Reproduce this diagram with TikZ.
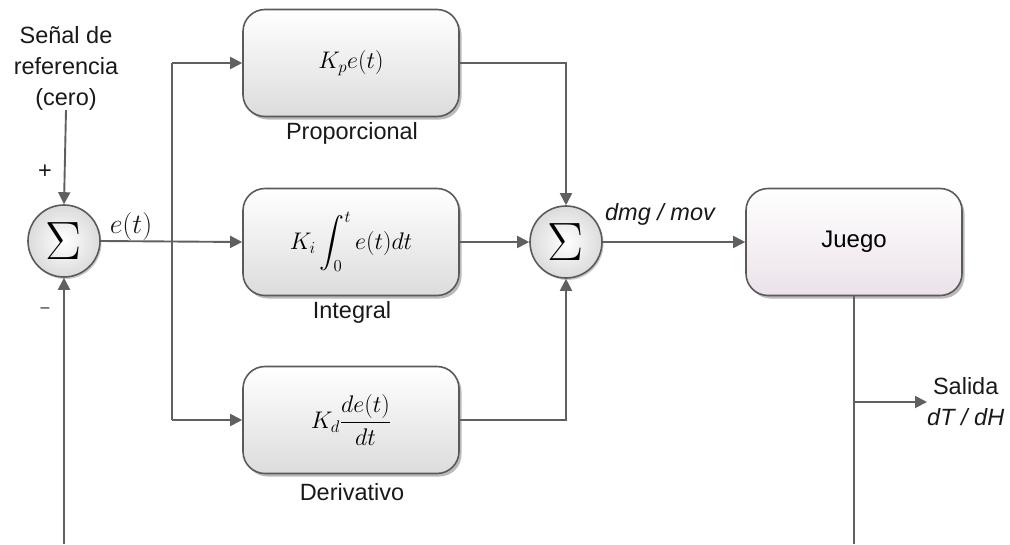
\RequirePackage{fix-cm}
\documentclass[tikz,border=0pt]{standalone}
\usepackage{amsmath}
\usepackage{fontspec}
\setmainfont{Liberation Sans}
\usetikzlibrary{arrows.meta,shadows,positioning}
\definecolor{linec}{RGB}{96,96,96}
\definecolor{edgec}{RGB}{90,90,90}
\definecolor{boxbot}{RGB}{220,220,220}
\definecolor{pinkbot}{RGB}{236,226,234}
\tikzset{
  conn/.style={draw=linec,line width=1.9pt},
  arr/.style={conn,-{Triangle[length=12pt,width=12pt]}},
  blockbox/.style={draw=edgec,line width=1.6pt,rounded corners=22pt,
     minimum width=216pt,minimum height=107pt,
     top color=white,bottom color=boxbot,
     drop shadow={shadow xshift=2.5pt,shadow yshift=-3pt,opacity=0.45,fill=black!60},
     font=\fontsize{24}{28}\selectfont},
  sumnode/.style={circle,draw=edgec,line width=1.6pt,minimum size=72pt,inner sep=0pt,
     inner color=white,outer color=black!14,
     drop shadow={shadow xshift=1.5pt,shadow yshift=-2pt,opacity=0.35,fill=black!60},
     font=\fontsize{54}{54}\selectfont},
  lbl/.style={font=\fontsize{23.5}{31}\selectfont,inner sep=0pt,text=black!90}
}
\begin{document}
\begin{tikzpicture}[x=1pt,y=-1pt]
\useasboundingbox (0,0) rectangle (1010,544);
% nodes
\node[lbl,align=center] (ref) at (66,68) {Señal de\\referencia\\(cero)};
\node[sumnode] (s1) at (64,241) {$\Sigma$};
\node[lbl] (plus) at (45,172) {+};
\node[lbl] (minus) at (45,310) {\fontsize{16}{16}\selectfont --};
\node[lbl,font=\fontsize{28}{30}\selectfont] (et) at (131,226) {$e(t)$};

\node[blockbox] (bp) at (351,63) {$K_p e(t)$};
\node[blockbox] (bi) at (351,242) {$K_i \displaystyle\int_0^t e(t)dt$};
\node[blockbox] (bd) at (351,420) {$K_d \dfrac{de(t)}{dt}$};
\node[lbl] (lp) at (352,133) {Proporcional};
\node[lbl] (li) at (352,312) {Integral};
\node[lbl] (ld) at (352,492) {Derivativo};

\node[sumnode] (s2) at (566,242) {$\Sigma$};
\node[lbl] (dmg) at (660,214) {\itshape dmg / mov};

\node[blockbox,bottom color=pinkbot] (game) at (854,242) {Juego};
\node[lbl,align=center,anchor=west] (out) at (927,402) {Salida\\\itshape dT / dH};

% coordinates
\coordinate (br) at (172,242);
\coordinate (tap) at (game.south |- out.west);
\coordinate (fbR) at (game.south |- 0,544);
\coordinate (fbL) at (s1.south |- 0,544);

% connectors
\draw[arr] (ref.south) -- (s1.north);
\draw[arr] (s1.east) -- (bi.west);
\draw[conn] (br) -- (br |- bp.west);
\draw[conn] (br) -- (br |- bd.west);
\draw[arr] (br |- bp.west) -- (bp.west);
\draw[arr] (br |- bd.west) -- (bd.west);
\draw[arr] (bp.east) -| (s2.north);
\draw[arr] (bd.east) -| (s2.south);
\draw[arr] (bi.east) -- (s2.west);
\draw[arr] (s2.east) -- (game.west);
\draw[conn] (game.south) -- (fbR);
\draw[arr] (tap) -- (out.west);
\draw[arr] (fbL) -- (s1.south);
\end{tikzpicture}
\end{document}
